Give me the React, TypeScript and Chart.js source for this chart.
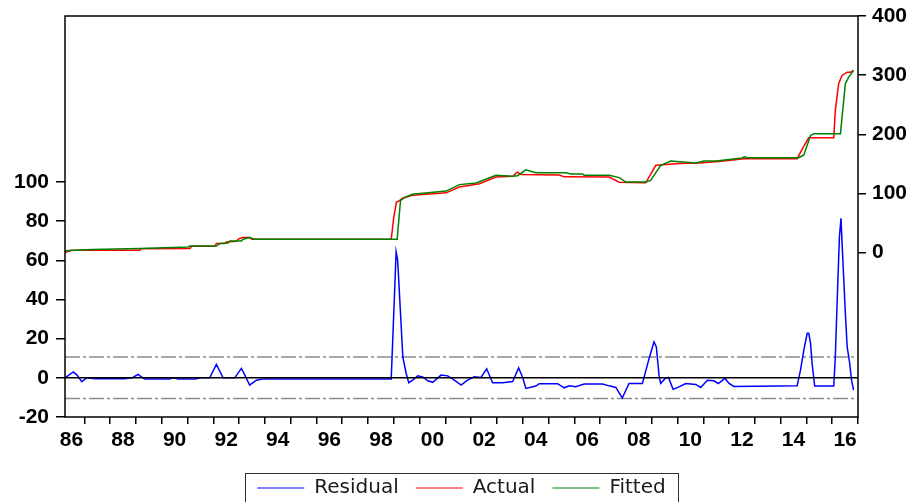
import React, { useEffect, useRef } from 'react';
import { Chart, registerables } from 'chart.js';

Chart.register(...registerables);

// ---- Data (decimal-year time, value) ----
const residualT = [
  1986.25, 1986.57, 1986.71, 1986.9, 1987.09, 1987.4, 1988.55, 1988.85, 1989.08, 1989.27,
  1989.35, 1990.3, 1990.45, 1990.65, 1991.3, 1991.5, 1991.86, 1992.12, 1992.38, 1992.83,
  1993.09, 1993.2, 1993.41, 1993.67, 1993.9, 1998.9, 1999.09, 1999.15, 1999.35, 1999.48,
  1999.58, 1999.73, 1999.93, 2000.12, 2000.32, 2000.51, 2000.83, 2001.09, 2001.35, 2001.61,
  2001.86, 2002.12, 2002.38, 2002.6, 2002.83, 2003.22, 2003.61, 2003.84, 2004.0, 2004.12,
  2004.51, 2004.64, 2005.35, 2005.61, 2005.8, 2006.06, 2006.38, 2007.09, 2007.35, 2007.61,
  2007.86, 2008.12, 2008.64, 2008.9, 2009.09, 2009.18, 2009.29, 2009.35, 2009.52, 2009.65,
  2009.83, 2010.06, 2010.32, 2010.71, 2010.9, 2011.16, 2011.41, 2011.58, 2011.84, 2012.0,
  2012.19, 2014.64, 2014.77, 2014.9, 2015.03, 2015.09, 2015.16, 2015.22, 2015.32, 2016.06,
  2016.12, 2016.22, 2016.28, 2016.34, 2016.38, 2016.51, 2016.58, 2016.67, 2016.75, 2016.83,
];
const residualV = [
  0, 3, 1.5, -2, 0, -0.5, -0.5, 0, 1.7, 0,
  -0.6, -0.6, 0, -0.6, -0.6, 0, 0, 6.8, 0, 0,
  4.8, 2, -3.7, -1.2, -0.6, -0.6, 64.3, 60, 10.7, 2.2,
  -2.5, -1.2, 1, 0.5, -1.5, -2.3, 1.4, 1, -1.2, -3.7,
  -1.2, 0.5, 0.2, 4.6, -2.5, -2.5, -1.9, 5.1, 0, -5.4,
  -4.2, -3.0, -3.0, -5.1, -4.1, -4.6, -3.2, -3.2, -4.1, -4.9,
  -10.3, -2.9, -2.9, 9.9, 18.4, 15.8, 0.5, -2.9, -0.3, 0.2,
  -5.9, -4.6, -2.9, -3.4, -4.9, -1.2, -1.5, -2.9, -0.3, -2.9,
  -4.4, -4.0, 3.9, 14.1, 22.7, 22.7, 17.6, 7.4, -4.2, -4.2,
  10.7, 49.9, 72, 81.4, 69.4, 32.9, 15.8, 8.2, -1.2, -6.3,
];

const actualT = [
  1986.25, 1986.5, 1989.15, 1989.2, 1991.1, 1991.15, 1992.06, 1992.12, 1992.44, 1992.5,
  1992.9, 1992.96, 1993.12, 1993.41, 1993.5, 1998.9, 1999.0, 1999.1, 1999.22, 1999.34,
  1999.72, 2001.03, 2001.54, 2002.32, 2002.96, 2003.61, 2003.79, 2003.94, 2005.41, 2005.61,
  2007.35, 2007.74, 2008.77, 2009.16, 2010.06, 2010.83, 2011.61, 2012.58, 2014.64, 2014.9,
  2015.09, 2016.06, 2016.12, 2016.25, 2016.38, 2016.58, 2016.71, 2016.83,
];
const actualV = [
  0, 4, 4, 6.5, 7, 10.6, 10.6, 15.2, 15.2, 18,
  19, 22.5, 25.3, 25.3, 22.5, 22.5, 60, 85, 88, 92,
  96.8, 101, 110.8, 116.5, 127.7, 128.9, 136, 132, 131, 128,
  127.7, 119, 118, 147.5, 150.5, 151.5, 154, 158.8, 158.8, 180,
  194, 194, 240, 285.5, 299.5, 305, 305, 308,
];

const fittedT = [
  1986.25, 1987.3, 1989.15, 1991.03, 1991.09, 1992.12, 1992.18, 1992.25, 1992.57, 1992.64,
  1993.09, 1993.15, 1993.41, 1993.54, 1993.6, 1999.13, 1999.26, 1999.41, 1999.72, 2001.03,
  2001.54, 2002.19, 2002.96, 2003.61, 2003.8, 2004.12, 2004.51, 2005.67, 2005.86, 2006.32,
  2006.38, 2007.35, 2007.74, 2008.0, 2008.77, 2008.96, 2009.35, 2009.74, 2010.71, 2011.03,
  2011.5, 2012.5, 2012.6, 2012.7, 2014.7, 2014.9, 2015.16, 2015.29, 2016.32, 2016.51,
  2016.64, 2016.83,
];
const fittedV = [
  3, 5, 6.8, 9.5, 11.1, 11.1, 12.8, 15.2, 16.2, 19.6,
  19.6, 22.5, 25.3, 23.6, 22.5, 22.5, 88, 93, 98.5, 104,
  114.9, 117.6, 130.6, 128.9, 130, 140, 135, 135, 132.8, 132.8,
  130.6, 130.6, 126.7, 119.3, 119.3, 122, 147.5, 154.7, 151.4, 154.7,
  155, 160, 162, 160.5, 160.5, 165, 198, 201, 201, 285.5,
  296.6, 308,
];

const xTickYears = [
  1987, 1988, 1989, 1990, 1991, 1992, 1993, 1994, 1995, 1996, 1997, 1998, 1999, 2000, 2001,
  2002, 2003, 2004, 2005, 2006, 2007, 2008, 2009, 2010, 2011, 2012, 2013, 2014, 2015, 2016, 2017,
];
const xLabelYears = [1986, 1988, 1990, 1992, 1994, 1996, 1998, 2000, 2002, 2004, 2006, 2008, 2010, 2012, 2014, 2016];
const leftTicks = [-20, 0, 20, 40, 60, 80, 100];
const rightTicks = [0, 100, 200, 300, 400];
const stdErr = 10.6;

const X_MIN = 1986.25;
const X_MAX = 2017.0;

const tickFont = { family: '"Liberation Sans", Arial, sans-serif', size: 21, weight: 'bold' as const };

const toPts = (t: number[], v: number[]) => t.map((x, i) => ({ x, y: v[i] }));

const LEGEND_SHIFT = 5.5;

const framePlugin = {
  id: 'framePlugin',
  afterLayout(chart: any) {
    const lg = chart.legend;
    if (lg) {
      lg.left += LEGEND_SHIFT;
      lg.right += LEGEND_SHIFT;
    }
  },
  beforeDatasetsDraw(chart: any) {
    const { ctx, chartArea: a } = chart;
    const y = chart.scales.yL;
    ctx.save();
    ctx.strokeStyle = '#8c8c8c';
    ctx.lineWidth = 1.5;
    ctx.setLineDash([15, 3, 3, 3]);
    for (const v of [stdErr, -stdErr]) {
      const py = y.getPixelForValue(v);
      ctx.beginPath();
      ctx.moveTo(a.left, py);
      ctx.lineTo(a.right, py);
      ctx.stroke();
    }
    ctx.restore();
  },
  afterDatasetsDraw(chart: any) {
    const { ctx, chartArea: a } = chart;
    const y = chart.scales.yL;
    ctx.save();
    ctx.strokeStyle = '#000';
    ctx.lineWidth = 1.5;
    const p0 = y.getPixelForValue(0);
    ctx.beginPath();
    ctx.moveTo(a.left, p0);
    ctx.lineTo(a.right, p0);
    ctx.stroke();
    ctx.strokeRect(a.left, a.top, a.right - a.left, a.bottom - a.top);
    ctx.restore();
  },
  afterDraw(chart: any) {
    const lg = chart.legend;
    if (!lg || !lg.legendHitBoxes || !lg.legendHitBoxes.length) return;
    const hb = lg.legendHitBoxes;
    const first = hb[0];
    const last = hb[hb.length - 1];
    const left = first.left - 12;
    const right = last.left + last.width + 13;
    const top = first.top - 5;
    const { ctx } = chart;
    ctx.save();
    ctx.strokeStyle = '#333';
    ctx.lineWidth = 1;
    ctx.strokeRect(Math.round(left) + 0.5, Math.round(top) + 0.5, Math.round(right - left), 60);
    ctx.restore();
  },
};

const noVPad = (axis: any) => {
  axis.paddingTop = 0;
  axis.paddingBottom = 0;
};

export default function App() {
  const ref = useRef<HTMLCanvasElement>(null);

  useEffect(() => {
    if (!ref.current) return;
    const chart = new Chart(ref.current, {
      type: 'line',
      data: {
        datasets: [
          {
            label: 'Residual',
            data: toPts(residualT, residualV),
            borderColor: '#0000ff',
            backgroundColor: '#0000ff',
            borderWidth: 1.5,
            pointRadius: 0,
            tension: 0,
            xAxisID: 'x',
            yAxisID: 'yL',
            order: 0,
          },
          {
            label: 'Actual',
            data: toPts(actualT, actualV),
            borderColor: '#ff0000',
            backgroundColor: '#ff0000',
            borderWidth: 1.5,
            pointRadius: 0,
            tension: 0,
            xAxisID: 'x',
            yAxisID: 'yR',
            order: 2,
          },
          {
            label: 'Fitted',
            data: toPts(fittedT, fittedV),
            borderColor: '#008000',
            backgroundColor: '#008000',
            borderWidth: 1.5,
            pointRadius: 0,
            tension: 0,
            xAxisID: 'x',
            yAxisID: 'yR',
            order: 1,
          },
        ],
      },
      options: {
        animation: false,
        responsive: true,
        maintainAspectRatio: false,
        layout: { padding: { top: 16, left: 0, right: 0, bottom: 0 } },
        plugins: {
          tooltip: { enabled: false },
          legend: {
            position: 'bottom',
            labels: {
              usePointStyle: true,
              pointStyle: 'line',
              pointStyleWidth: 47,
              padding: 17,
              color: '#1a1a1a',
              font: { family: '"DejaVu Sans", sans-serif', size: 20 },
              sort: (a: any, b: any) => a.datasetIndex - b.datasetIndex,
              generateLabels: (c: any) =>
                (Chart as any).defaults.plugins.legend.labels
                  .generateLabels(c)
                  .map((l: any) => ({ ...l, lineWidth: 1 })),
            },
          },
        },
        scales: {
          x: {
            type: 'linear',
            position: 'bottom',
            min: X_MIN,
            max: X_MAX,
            bounds: 'data',
            afterBuildTicks: (axis: any) => {
              axis.ticks = xTickYears.map((v) => ({ value: v }));
            },
            ticks: { display: false },
            grid: {
              display: true,
              drawOnChartArea: false,
              drawTicks: true,
              tickLength: 7,
              color: '#000',
              lineWidth: 1.5,
            },
            border: { display: false },
          },
          xLab: {
            type: 'linear',
            position: 'bottom',
            min: X_MIN,
            max: X_MAX,
            bounds: 'data',
            afterBuildTicks: (axis: any) => {
              axis.ticks = xLabelYears.map((v) => ({ value: v + 0.5 }));
            },
            afterFit: (axis: any) => {
              axis.height = 37;
            },
            ticks: {
              autoSkip: false,
              maxRotation: 0,
              minRotation: 0,
              padding: 4,
              color: '#000',
              font: tickFont,
              callback: (v: any) => String(Math.floor(Number(v)) % 100).padStart(2, '0'),
            },
            grid: { display: false, drawTicks: false },
            border: { display: false },
          },
          yL: {
            type: 'linear',
            position: 'left',
            min: -20,
            max: 184.7,
            bounds: 'data',
            afterBuildTicks: (axis: any) => {
              axis.ticks = leftTicks.map((v) => ({ value: v }));
            },
            afterFit: (axis: any) => {
              axis.width = 65;
              noVPad(axis);
            },
            ticks: {
              padding: 7,
              color: '#000',
              font: tickFont,
              callback: (v: any) => String(v),
            },
            grid: {
              display: true,
              drawOnChartArea: false,
              drawTicks: true,
              tickLength: 9,
              color: '#000',
              lineWidth: 1.5,
            },
            border: { display: false },
          },
          yR: {
            type: 'linear',
            position: 'right',
            min: -278,
            max: 400,
            bounds: 'data',
            afterBuildTicks: (axis: any) => {
              axis.ticks = rightTicks.map((v) => ({ value: v }));
            },
            afterFit: (axis: any) => {
              axis.width = 54;
              noVPad(axis);
            },
            ticks: {
              padding: 6,
              color: '#000',
              font: tickFont,
              callback: (v: any) => String(v),
            },
            grid: {
              display: true,
              drawOnChartArea: false,
              drawTicks: true,
              tickLength: 8,
              color: '#000',
              lineWidth: 1.5,
            },
            border: { display: false },
          },
        },
      },
      plugins: [framePlugin],
    } as any);
    return () => chart.destroy();
  }, []);

  return (
    <div
      style={{
        position: 'fixed',
        left: 0,
        top: 0,
        width: 912,
        height: 502,
        overflow: 'hidden',
        background: '#fff',
      }}
    >
      <div style={{ position: 'relative', width: 912, height: 508 }}>
        <canvas ref={ref} />
      </div>
    </div>
  );
}
